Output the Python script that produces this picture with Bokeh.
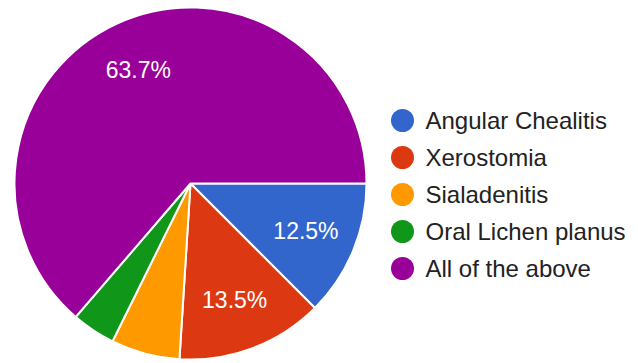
import math
from bokeh.plotting import figure
from bokeh.models import Range1d, ColumnDataSource
from bokeh.core.properties import value
from bokeh.embed import file_html
from bokeh.resources import INLINE

categories = ["Angular Chealitis", "Xerostomia", "Sialadenitis", "Oral Lichen planus", "All of the above"]
percents = [12.5, 13.5, 6.3, 4.0, 63.7]
colors = ["#3366cc", "#dc3912", "#ff9900", "#109618", "#990099"]

W, H = 638, 363
CX, CY, R = 190, H - 183, 176
FONT = "Liberation Sans"

p = figure(width=W, height=H, output_backend="svg", toolbar_location=None,
           x_range=Range1d(0, W), y_range=Range1d(0, H), min_border=0)
p.axis.visible = False
p.grid.visible = False
p.outline_line_color = None
p.background_fill_color = "white"

total = sum(percents)
starts, ends, mids = [], [], []
cum = 0.0
for v in percents:
    a0 = cum / total * 2 * math.pi
    cum += v
    a1 = cum / total * 2 * math.pi
    # clockwise from 3 o'clock: use negative angles
    starts.append(-a1)
    ends.append(-a0)
    mids.append(-(a0 + a1) / 2)

src = ColumnDataSource(dict(start=starts, end=ends, color=colors, cat=categories))
p.wedge(x=CX, y=CY, radius=R, start_angle="start", end_angle="end",
        fill_color="color", line_color="white", line_width=2, source=src)

# percentage labels
lx, ly, lt = [], [], []
for v, m in zip(percents, mids):
    if v >= 10:
        lx.append(CX + 0.71 * R * math.cos(m))
        ly.append(CY + 0.71 * R * math.sin(m))
        lt.append(f"{v:.1f}%")
p.text(x=lx, y=ly, text=lt, text_color="white", text_font=value(FONT),
       text_font_size="23px", text_align="center", text_baseline="middle")

# legend
LX, LY0, DY = 402, H - 120, 37
ly_leg = [LY0 - i * DY for i in range(len(categories))]
p.scatter(x=[LX] * len(categories), y=ly_leg, size=23, fill_color=colors,
          line_color=None, marker="circle")
p.text(x=[LX + 23] * len(categories), y=ly_leg, text=categories, text_color="#222222",
       text_font=value(FONT), text_font_size="24px", text_align="left",
       text_baseline="middle")

open("out.html", "w").write(file_html(p, INLINE))
